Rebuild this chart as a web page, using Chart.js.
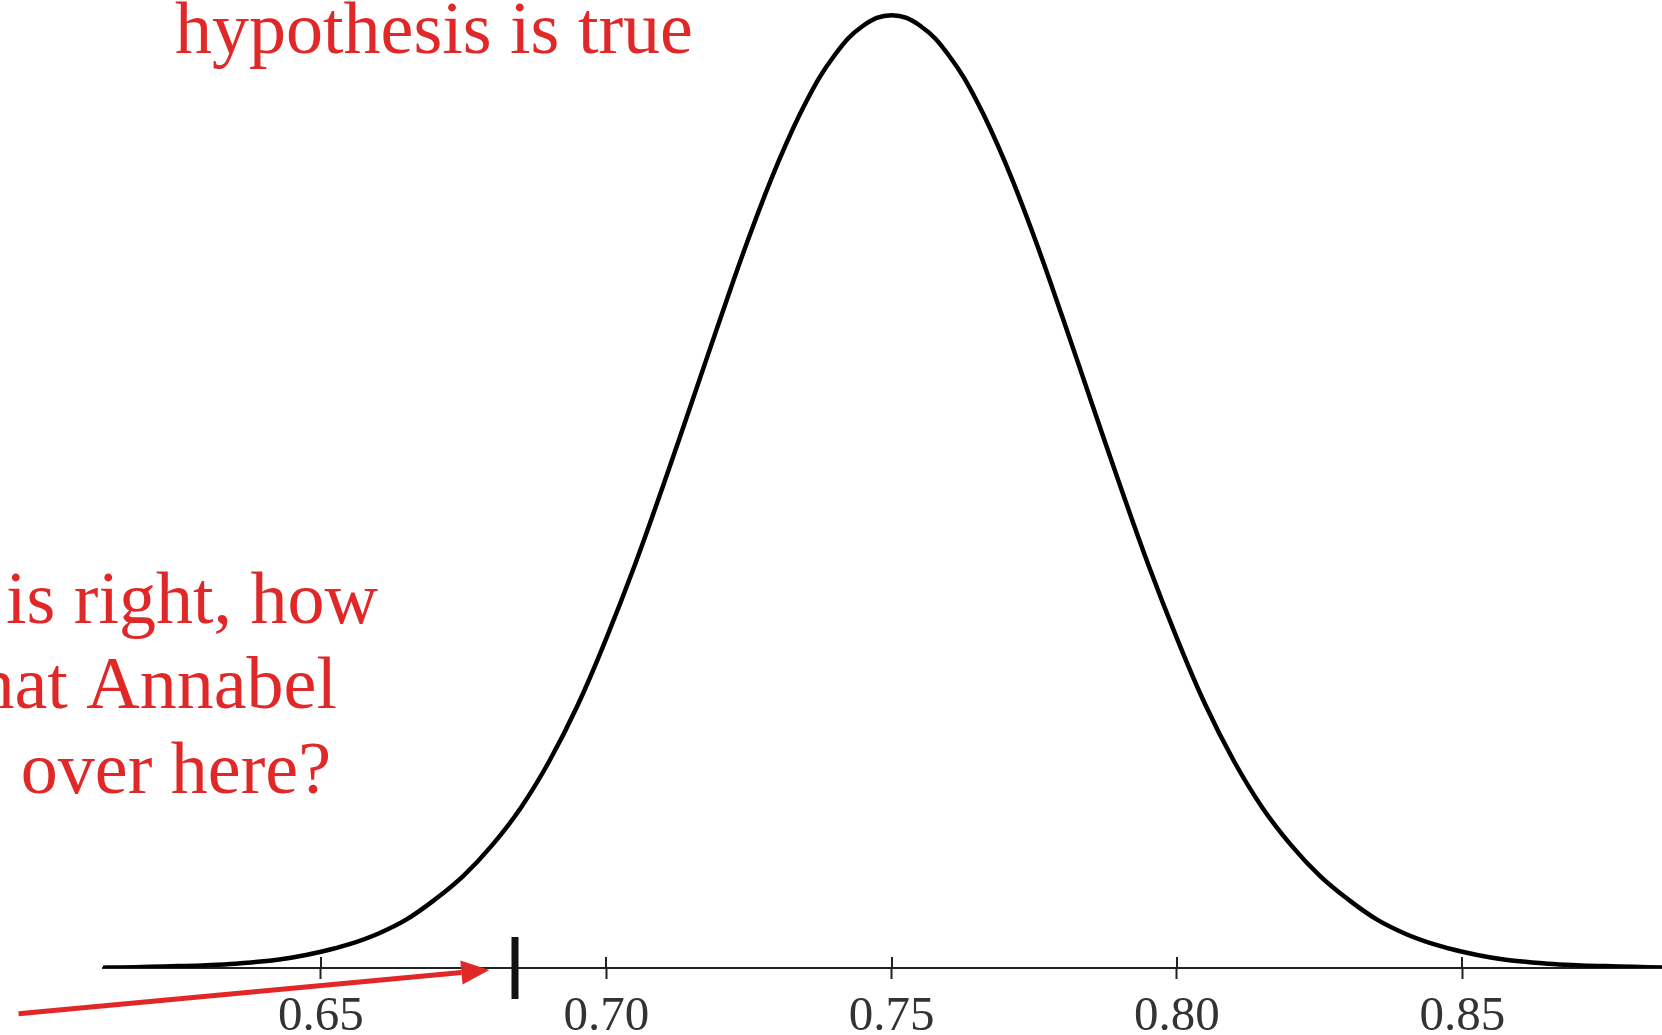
<!DOCTYPE html>
<html>
<head>
<meta charset="utf-8">
<title>Sampling distribution</title>
<script src="https://cdn.jsdelivr.net/npm/chart.js@4.4.1/dist/chart.umd.min.js"></script>
<style>
  html, body { margin: 0; padding: 0; background: #fff; }
  #wrap { width: 1662px; height: 1035px; position: relative; }
</style>
</head>
<body>
<div id="wrap"><canvas id="chart"></canvas></div>
<script>
// Sampling distribution of the proportion, height scaled so the peak is 1
const curveX = [
  0.610, 0.615, 0.620, 0.625, 0.630, 0.635, 0.640, 0.645, 0.650, 0.655,
  0.660, 0.665, 0.670, 0.675, 0.680, 0.685, 0.690, 0.695, 0.700, 0.705,
  0.710, 0.715, 0.720, 0.725, 0.730, 0.735, 0.740, 0.745, 0.750, 0.755,
  0.760, 0.765, 0.770, 0.775, 0.780, 0.785, 0.790, 0.795, 0.800, 0.805,
  0.810, 0.815, 0.820, 0.825, 0.830, 0.835, 0.840, 0.845, 0.850, 0.855,
  0.860, 0.865, 0.870, 0.875, 0.880, 0.885
];
const curveY = [
  0.0003, 0.0006, 0.0012, 0.002, 0.003, 0.0045, 0.007, 0.011, 0.017, 0.025,
  0.036, 0.051, 0.072, 0.097, 0.129, 0.168, 0.217, 0.276, 0.346, 0.423,
  0.507, 0.594, 0.682, 0.767, 0.844, 0.909, 0.958, 0.989, 1.000, 0.989,
  0.958, 0.909, 0.844, 0.767, 0.682, 0.594, 0.507, 0.423, 0.346, 0.276,
  0.217, 0.168, 0.129, 0.097, 0.072, 0.051, 0.036, 0.025, 0.017, 0.011,
  0.007, 0.0045, 0.003, 0.002, 0.0012, 0.0006
];
// Annabel's observed proportion
const observedX = [0.684];
const tickValues = [0.65, 0.70, 0.75, 0.80, 0.85];

const RED = 'rgb(225, 40, 40)';
const INK = '#222';

// red notes, the arrow to the observed value and the upper halves of the tick marks
const notesPlugin = {
  id: 'notes',
  beforeDatasetsDraw(chart) {
    const { ctx, scales: { x, y } } = chart;
    const y0 = y.getPixelForValue(0);
    ctx.save();
    ctx.strokeStyle = INK;
    ctx.lineWidth = 2;
    tickValues.forEach(v => {
      const px = Math.round(x.getPixelForValue(v));
      ctx.beginPath();
      ctx.moveTo(px, y0);
      ctx.lineTo(px, y0 - 11);
      ctx.stroke();
    });
    ctx.restore();
  },
  afterDraw(chart) {
    const { ctx, scales: { x, y } } = chart;
    ctx.save();
    ctx.fillStyle = RED;
    ctx.font = '74px "Liberation Serif", "Times New Roman", serif';
    ctx.textBaseline = 'alphabetic';
    ctx.textAlign = 'left';
    ctx.fillText('hypothesis is true', 175, 53);
    ctx.textAlign = 'right';
    ctx.fillText('is right, how', 378, 623);
    ctx.fillText('that Annabel', 337, 708);
    ctx.fillText('over here?', 331, 793);

    // arrow
    const x1 = x.getPixelForValue(0.597), y1 = y.getPixelForValue(-0.048);
    const x2 = x.getPixelForValue(0.6795), y2 = y.getPixelForValue(-0.002);
    const ang = Math.atan2(y2 - y1, x2 - x1);
    const headLen = 28, headHalf = 12;
    const bx = x2 - Math.cos(ang) * headLen, by = y2 - Math.sin(ang) * headLen;
    ctx.strokeStyle = RED;
    ctx.lineWidth = 5;
    ctx.beginPath();
    ctx.moveTo(x1, y1);
    ctx.lineTo(bx, by);
    ctx.stroke();
    ctx.beginPath();
    ctx.moveTo(x2, y2);
    ctx.lineTo(bx + Math.sin(ang) * headHalf, by - Math.cos(ang) * headHalf);
    ctx.lineTo(bx - Math.sin(ang) * headHalf, by + Math.cos(ang) * headHalf);
    ctx.closePath();
    ctx.fill();
    ctx.restore();
  }
};

new Chart(document.getElementById('chart'), {
  type: 'line',
  data: {
    datasets: [
      {
        data: curveX.map((v, i) => ({ x: v, y: curveY[i] })),
        borderColor: '#000',
        borderWidth: 4.5,
        pointRadius: 0,
        tension: 0.4,
        fill: false
      },
      {
        data: observedX.map(v => ({ x: v, y: 0 })),
        showLine: false,
        pointStyle: 'line',
        rotation: 90,
        pointRadius: 31,
        pointBorderWidth: 7,
        pointBorderColor: '#111',
        clip: false
      }
    ]
  },
  options: {
    responsive: true,
    maintainAspectRatio: false,
    animation: false,
    events: [],
    layout: { autoPadding: false, padding: { left: 103, right: 0, top: 0, bottom: 0 } },
    plugins: { legend: { display: false }, tooltip: { enabled: false } },
    scales: {
      x: {
        type: 'linear',
        min: 0.6118,
        max: 0.885,
        afterBuildTicks: scale => { scale.ticks = tickValues.map(v => ({ value: v })); },
        afterFit: scale => { scale.height = 67; scale.paddingLeft = 0; scale.paddingRight = 0; },
        border: { color: INK, width: 2 },
        grid: { drawOnChartArea: false, drawTicks: true, tickLength: 11, tickWidth: 2, tickColor: INK },
        ticks: {
          padding: 9,
          color: '#333',
          font: { family: '"Liberation Serif", "Times New Roman", serif', size: 49 },
          callback: v => v.toFixed(2),
          maxRotation: 0
        }
      },
      y: {
        display: false,
        min: 0,
        max: 1.016
      }
    }
  },
  plugins: [notesPlugin]
});
</script>
</body>
</html>
